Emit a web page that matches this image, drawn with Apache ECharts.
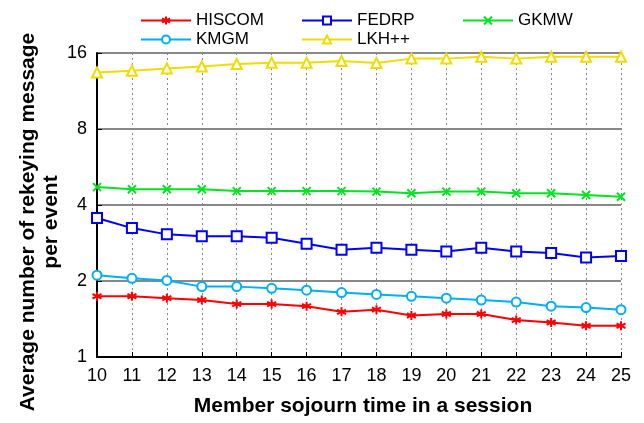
<!DOCTYPE html>
<html><head><meta charset="utf-8">
<script src="https://cdn.jsdelivr.net/npm/echarts@6/dist/echarts.min.js"></script>
<style>html,body{margin:0;padding:0;background:#fff}#c{width:644px;height:423px}</style>
</head><body><div id="c"></div>
<script>
const categories = ['10','11','12','13','14','15','16','17','18','19','20','21','22','23','24','25'];
const HISCOM = [1.74,1.74,1.71,1.68,1.62,1.62,1.59,1.51,1.54,1.46,1.48,1.48,1.40,1.37,1.33,1.33];
const FEDRP  = [3.55,3.24,3.06,3.01,3.01,2.97,2.81,2.66,2.71,2.66,2.62,2.71,2.62,2.58,2.48,2.51];
const GKMW   = [4.71,4.62,4.62,4.62,4.54,4.54,4.54,4.54,4.52,4.45,4.52,4.52,4.45,4.45,4.38,4.31];
const KMGM   = [2.11,2.05,2.01,1.90,1.90,1.87,1.84,1.80,1.77,1.74,1.71,1.68,1.65,1.59,1.57,1.54];
const LKH    = [13.4,13.6,13.9,14.15,14.46,14.63,14.63,14.86,14.6,15.2,15.2,15.46,15.2,15.46,15.46,15.46];
const yTicks = [1,2,4,8,16];
const yTitle = 'Average number of rekeying message\nper event';
const xTitle = 'Member sojourn time in a session';

const FONT = '"Liberation Sans", Arial, sans-serif';
const asterisk = 'path://M0,-10L0,10M-8.7,-5L8.7,5M-8.7,5L8.7,-5';
const cross = 'path://M-10,-10L10,10M-10,10L10,-10';

function mk(name, data, color, symbol, size) {
  const empty = symbol.startsWith('empty');
  return {
    name, type: 'line', data, symbol, symbolSize: size, showSymbol: true,
    lineStyle: {color, width: 2},
    itemStyle: empty ? {color, borderWidth: 2} : {color, borderColor: color, borderWidth: 2},
    emphasis: {disabled: true}, animation: false
  };
}
const series = [
  mk('HISCOM', HISCOM, '#ff0000', asterisk, 9),
  mk('FEDRP', FEDRP, '#0000ff', 'emptyRect', 10),
  mk('GKMW', GKMW, '#00e61e', cross, 8),
  mk('KMGM', KMGM, '#00b0f0', 'emptyCircle', 9),
  mk('LKH++', LKH, '#f0dc00', 'emptyTriangle', 10)
];
function lg(name, left, top) {
  return {data: [name], left, top, itemWidth: 50, itemHeight: 10, itemGap: 5,
    textStyle: {fontFamily: FONT, fontSize: 17, color: '#000'}, selectedMode: false};
}
const chart = echarts.init(document.getElementById('c'));
chart.setOption({
  animation: false,
  legend: [lg('HISCOM', 135, 7), lg('FEDRP', 296, 7), lg('GKMW', 457, 7), lg('KMGM', 135, 26), lg('LKH++', 296, 26)],
  grid: {left: 97, right: 23, top: 53, bottom: 66, containLabel: false},
  graphic: [{
    type: 'text', x: 40, y: 222, rotation: Math.PI / 2, silent: true,
    style: {text: yTitle, font: 'bold 21px ' + FONT, fill: '#000', align: 'center', verticalAlign: 'middle', lineHeight: 23}
  }],
  xAxis: {
    type: 'category', data: categories, boundaryGap: false,
    name: xTitle, nameLocation: 'middle', nameGap: 39,
    nameTextStyle: {fontFamily: FONT, fontSize: 21, fontWeight: 'bold', color: '#000', padding: [0, 0, 0, 8]},
    axisLine: {lineStyle: {color: '#000', width: 2}},
    axisTick: {show: true, inside: true, length: 5, lineStyle: {color: '#000', width: 1}},
    axisLabel: {fontFamily: FONT, fontSize: 18, color: '#000', margin: 10},
    splitLine: {show: true, lineStyle: {color: '#888', type: [2, 3], width: 1}}
  },
  yAxis: {
    type: 'log', logBase: 2, min: 1, max: 16,
    axisLine: {show: true, lineStyle: {color: '#000', width: 2}},
    axisTick: {show: true, inside: true, length: 5, lineStyle: {color: '#000'}},
    axisLabel: {fontFamily: FONT, fontSize: 18, color: '#000', margin: 10,
      formatter: v => yTicks.includes(Math.round(v)) ? String(Math.round(v)) : ''},
    splitLine: {show: true, lineStyle: {color: '#888', width: 2}}
  },
  series
});
</script></body></html>
